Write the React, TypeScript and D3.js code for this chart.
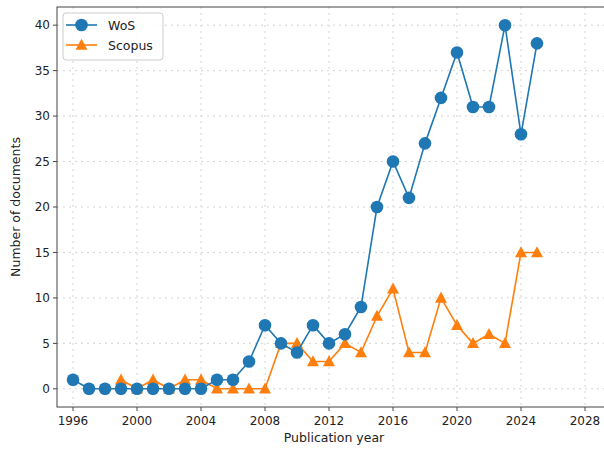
import React from "react";
import * as d3 from "d3";

const years = d3.range(1996, 2026);
const wosValues = [1, 0, 0, 0, 0, 0, 0, 0, 0, 1, 1, 3, 7, 5, 4, 7, 5, 6, 9, 20, 25, 21, 27, 32, 37, 31, 31, 40, 28, 38];
const scopusYears = d3.range(1999, 2026);
const scopusValues = [1, 0, 1, 0, 1, 1, 0, 0, 0, 0, 5, 5, 3, 3, 5, 4, 8, 11, 4, 4, 10, 7, 5, 6, 5, 15, 15];
const xTicks = [1996, 2000, 2004, 2008, 2012, 2016, 2020, 2024, 2028];
const yTicks = [0, 5, 10, 15, 20, 25, 30, 35, 40];

const W = 604, H = 452;
const left = 57, right = 609, top = 7, bottom = 407;
const BLUE = "#1f77b4", ORANGE = "#ff7f0e";
const FONT = "DejaVu Sans, sans-serif";

function tri(cx: number, cy: number, r: number) {
  return `M${cx},${cy - r} L${cx + r * 0.95},${cy + r * 0.75} L${cx - r * 0.95},${cy + r * 0.75} Z`;
}

export default function App() {
  const x = d3.scaleLinear().domain([1995, 2029.5]).range([left, right]);
  const y = d3.scaleLinear().domain([-2, 42]).range([bottom, top]);
  const wos = years.map((yr, i) => [yr, wosValues[i]] as [number, number]);
  const sco = scopusYears.map((yr, i) => [yr, scopusValues[i]] as [number, number]);
  const line = d3.line<[number, number]>().x(d => x(d[0])).y(d => y(d[1]));
  const r = 6.3;
  return (
    <svg width={W} height={H} style={{ position: "absolute", left: 0, top: 0 }}>
      <rect x={0} y={0} width={W} height={H} fill="#fff" />
      {xTicks.map(t => (
        <line key={"gx" + t} x1={x(t)} x2={x(t)} y1={top} y2={bottom} stroke="#d4d4d4" strokeWidth={1} strokeDasharray="2,4" />
      ))}
      {yTicks.map(t => (
        <line key={"gy" + t} x1={left} x2={right} y1={y(t)} y2={y(t)} stroke="#d4d4d4" strokeWidth={1} strokeDasharray="2,4" />
      ))}
      <path d={line(sco) || ""} fill="none" stroke={ORANGE} strokeWidth={1.6} />
      {sco.map(d => (
        <path key={"s" + d[0]} d={tri(x(d[0]), y(d[1]), r)} fill={ORANGE} />
      ))}
      <path d={line(wos) || ""} fill="none" stroke={BLUE} strokeWidth={1.6} />
      {wos.map(d => (
        <circle key={"w" + d[0]} cx={x(d[0])} cy={y(d[1])} r={r} fill={BLUE} />
      ))}
      <rect x={left} y={top} width={right - left} height={bottom - top} fill="none" stroke="#444" strokeWidth={1} />
      {xTicks.map(t => (
        <g key={"tx" + t}>
          <line x1={x(t)} x2={x(t)} y1={bottom} y2={bottom + 4} stroke="#444" />
          <text x={x(t)} y={bottom + 18} textAnchor="middle" fontFamily={FONT} fontSize={12} fill="#222">{t}</text>
        </g>
      ))}
      {yTicks.map(t => (
        <g key={"ty" + t}>
          <line x1={left - 4} x2={left} y1={y(t)} y2={y(t)} stroke="#444" />
          <text x={left - 7} y={y(t) + 4.3} textAnchor="end" fontFamily={FONT} fontSize={12} fill="#222">{t}</text>
        </g>
      ))}
      <text x={334} y={bottom + 35} textAnchor="middle" fontFamily={FONT} fontSize={12.5} fill="#222">Publication year</text>
      <text transform={`translate(20,${(top + bottom) / 2}) rotate(-90)`} textAnchor="middle" fontFamily={FONT} fontSize={12.5} fill="#222">Number of documents</text>
      <g>
        <rect x={63} y={13} width={100} height={47} rx={3} fill="#fff" fillOpacity={0.85} stroke="#ccc" />
        <line x1={66} x2={97} y1={25} y2={25} stroke={BLUE} strokeWidth={1.6} />
        <circle cx={81.5} cy={25} r={r} fill={BLUE} />
        <text x={108} y={29.5} fontFamily={FONT} fontSize={12.5} fill="#222">WoS</text>
        <line x1={66} x2={97} y1={45} y2={45} stroke={ORANGE} strokeWidth={1.6} />
        <path d={tri(81.5, 45, r)} fill={ORANGE} />
        <text x={108} y={49.5} fontFamily={FONT} fontSize={12.5} fill="#222">Scopus</text>
      </g>
    </svg>
  );
}
